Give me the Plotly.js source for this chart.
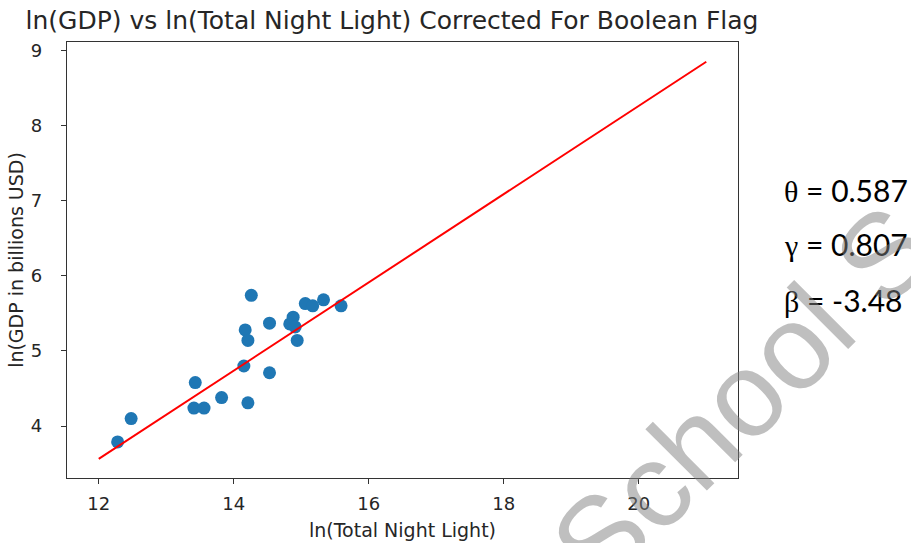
<!DOCTYPE html>
<html>
<head>
<meta charset="utf-8">
<script src="https://cdn.plot.ly/plotly-3.0.1.min.js"></script>
<style>html,body{margin:0;padding:0;background:#fff;}#chart{width:911px;height:543px;}</style>
</head>
<body>
<div id="chart"></div>
<script>
// Scatter observations: ln(Total Night Light) vs ln(GDP in billions USD)
var nightLight = [12.28, 12.48, 13.43, 13.41, 13.56, 13.82, 14.15, 14.21, 14.17, 14.21, 14.26, 14.53, 14.53, 14.83, 14.88, 14.91, 14.94, 15.06, 15.17, 15.33, 15.59];
var gdp        = [3.79, 4.10, 4.58, 4.24, 4.24, 4.38, 4.80, 4.31, 5.28, 5.14, 5.74, 5.37, 4.71, 5.36, 5.45, 5.32, 5.14, 5.63, 5.60, 5.68, 5.60];
// Fitted line endpoints
var fitX = [12, 21];
var fitY = [3.564, 8.847];
// Tick labels
var xTicks = [12, 14, 16, 18, 20];
var yTicks = [4, 5, 6, 7, 8, 9];
// Parameter text
var paramSymbols = ["θ", "γ", "β"];
var paramValues = ["0.587", "0.807", "-3.48"];
var watermark = "School S";

var font = "DejaVu Sans, sans-serif";
var traces = [
  {x: nightLight, y: gdp, type: "scatter", mode: "markers",
   marker: {color: "#1f77b4", size: 13}, hoverinfo: "skip"},
  {x: fitX, y: fitY, type: "scatter", mode: "lines",
   line: {color: "#ff0000", width: 2}, hoverinfo: "skip"}
];

var annotations = [];
var paramY = [190, 244, 300];
for (var i = 0; i < paramSymbols.length; i++) {
  annotations.push({
    text: "<span style=\"font-family:'Liberation Serif',serif\">" + paramSymbols[i] + "</span> = " + paramValues[i],
    xref: "paper", yref: "paper",
    x: (782 - 67) / (738 - 67), y: 1 - (paramY[i] - 42) / (478 - 42),
    xanchor: "left", yanchor: "middle", showarrow: false,
    font: {family: "Lato, Noto Sans, sans-serif", size: 30, color: "#000"}
  });
}
annotations.push({
  text: watermark, xref: "paper", yref: "paper",
  x: (742 - 67) / (738 - 67), y: 1 - (396 - 42) / (478 - 42),
  xanchor: "center", yanchor: "middle", showarrow: false, textangle: -45,
  font: {family: "Liberation Sans, Arial, sans-serif", size: 120, color: "rgba(128,128,128,0.5)"}
});

var axisCommon = {
  showline: true, mirror: true, linecolor: "#333", linewidth: 1.3,
  ticks: "outside", ticklen: 5, tickwidth: 1, tickcolor: "#333",
  showgrid: false, zeroline: false,
  tickfont: {family: font, size: 18, color: "#262626"}
};

var layout = {
  width: 911, height: 543,
  margin: {l: 67, r: 173, t: 42, b: 65},
  paper_bgcolor: "#fff", plot_bgcolor: "#fff",
  showlegend: false,
  title: {text: "ln(GDP) vs ln(Total Night Light) Corrected For Boolean Flag",
          font: {family: font, size: 25, color: "#262626"},
          xref: "container", x: 392 / 911, xanchor: "center",
          yref: "container", y: 1 - 20 / 543, yanchor: "middle"},
  xaxis: Object.assign({}, axisCommon, {
    range: [11.53, 21.47], tickvals: xTicks, ticktext: xTicks.map(String),
    ticklabelstandoff: 4,
    title: {text: "ln(Total Night Light)", font: {family: font, size: 19, color: "#262626"}, standoff: 10}
  }),
  yaxis: Object.assign({}, axisCommon, {
    range: [3.31, 9.11], tickvals: yTicks, ticktext: yTicks.map(String),
    ticklabelstandoff: 15,
    title: {text: "ln(GDP in billions USD)", font: {family: font, size: 19, color: "#262626"}, standoff: 2}
  }),
  annotations: annotations
};

Plotly.newPlot("chart", traces, layout, {staticPlot: true, displayModeBar: false});
</script>
</body>
</html>
